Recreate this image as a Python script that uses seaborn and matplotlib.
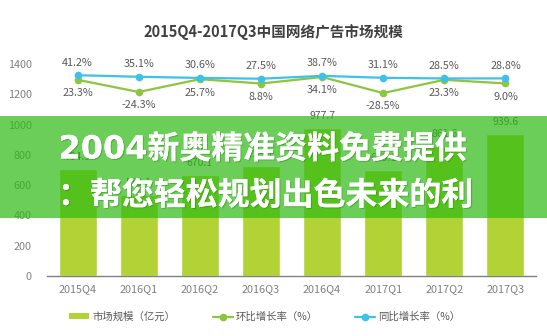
import numpy as np
import pandas as pd
import matplotlib
matplotlib.use("Agg")
import matplotlib.pyplot as plt
import matplotlib.patheffects as pe
from matplotlib.patches import Rectangle, Patch
from matplotlib.lines import Line2D
import seaborn as sns

# ---- data ----
quarters = ["2015Q4", "2016Q1", "2016Q2", "2016Q3", "2016Q4", "2017Q1", "2017Q2", "2017Q3"]
market_size = [704.3, 533.1, 670.1, 729.1, 977.7, 699.1, 861.6, 939.6]
qoq_growth = [23.3, -24.3, 25.7, 8.8, 34.1, -28.5, 23.3, 9.0]
yoy_growth = [41.2, 35.1, 30.6, 27.5, 38.7, 31.1, 28.5, 28.8]
y_ticks = [0, 200, 400, 600, 800, 1000, 1200, 1400]
title = "2015Q4-2017Q3中国网络广告市场规模"
legend_labels = ["市场规模（亿元）", "环比增长率（%）", "同比增长率（%）"]
banner_lines = ["2004新奥精准资料免费提供", "：帮您轻松规划出色未来的利"]

sns.set_theme(style="white")
plt.rcParams["font.family"] = ["Noto Sans CJK SC", "DejaVu Sans"]

BAR = "#b2d235"
GREEN = "#8cc63f"
BLUE = "#3ec1e8"
TXT = "#595959"

df = pd.DataFrame({"quarter": quarters, "size": market_size})

fig = plt.figure(figsize=(5.47, 3.36), dpi=100)
ax = fig.add_axes([47/547, 1-276/336, (536-47)/547, (276-64)/336])

sns.barplot(data=df, x="quarter", y="size", color=BAR, width=0.62,
            saturation=1, ax=ax, zorder=2)
ax.set_xlim(-0.5, len(quarters) - 0.5)
ax.set_ylim(0, 1400)
ax.set_yticks(y_ticks)
ax.set_xlabel("")
ax.set_ylabel("")
for s in ["top", "right", "left"]:
    ax.spines[s].set_visible(False)
ax.spines["bottom"].set_color("#808080")
ax.spines["bottom"].set_linewidth(1.0)
ax.tick_params(axis="y", length=0, pad=11, labelsize=7.8, labelcolor="#808080")
ax.tick_params(axis="x", length=0, pad=6, labelsize=7.8, labelcolor="#808080")

for i, v in enumerate(market_size):
    ax.annotate(f"{v:.1f}", (i, v), xytext=(0, 5), textcoords="offset points",
                ha="center", va="bottom", fontsize=7.5, color=TXT)

ax2 = ax.twinx()
xs = np.arange(len(quarters))
sns.lineplot(x=xs, y=yoy_growth, color=BLUE, marker="o", markersize=5.5,
             markeredgewidth=0, linewidth=1.6, ax=ax2, zorder=4)
sns.lineplot(x=xs, y=qoq_growth, color=GREEN, marker="o", markersize=5.5,
             markeredgewidth=0, linewidth=1.6, ax=ax2, zorder=3)
ax2.set_ylim(-743, 85)
ax2.set_yticks([])
ax2.set_ylabel("")
for s in ax2.spines.values():
    s.set_visible(False)

for i, v in enumerate(yoy_growth):
    ax2.annotate(f"{v:.1f}%", (i, v), xytext=(0, 5.5), textcoords="offset points",
                 ha="center", va="bottom", fontsize=7.8, color=TXT)
for i, v in enumerate(qoq_growth):
    ax2.annotate(f"{v:.1f}%", (i, v), xytext=(0, -6), textcoords="offset points",
                 ha="center", va="top", fontsize=7.8, color=TXT)

fig.text(273/547, 1-32/336, title, ha="center", va="center",
         fontsize=10.5, fontweight="bold", color="#404040")

handles = [
    Patch(facecolor=BAR, edgecolor="none"),
    Line2D([], [], color=GREEN, marker="o", markersize=4.5, linewidth=1.6),
    Line2D([], [], color=BLUE, marker="o", markersize=4.5, linewidth=1.6),
]
leg = fig.legend(handles, legend_labels, loc="center", ncol=3,
                 bbox_to_anchor=(265/547, 1-317/336), frameon=False,
                 fontsize=7.5, handlelength=1.9, handleheight=0.5,
                 handletextpad=0.3, columnspacing=3.6)
for t in leg.get_texts():
    t.set_color(TXT)

# overlay banner
fig.patches.append(Rectangle((0, 1-218/336), 1, (218-116)/336,
                             transform=fig.transFigure, facecolor="#2dba13",
                             alpha=0.7, edgecolor="none", zorder=10))
shadow = [pe.withSimplePatchShadow(offset=(0.8, -0.8), shadow_rgbFace="#2a6e10", alpha=0.35), pe.Normal()]
fig.text(263/547, 1-150/336, banner_lines[0], ha="center", va="center",
         fontsize=23, fontweight="heavy", color="white", zorder=11,
         family=["DejaVu Sans", "Noto Sans CJK SC"], path_effects=shadow)
fig.text(266/547, 1-196/336, banner_lines[1], ha="center", va="center",
         fontsize=23, fontweight="heavy", color="white", zorder=11,
         path_effects=shadow)

fig.savefig("out.png", dpi=100)
